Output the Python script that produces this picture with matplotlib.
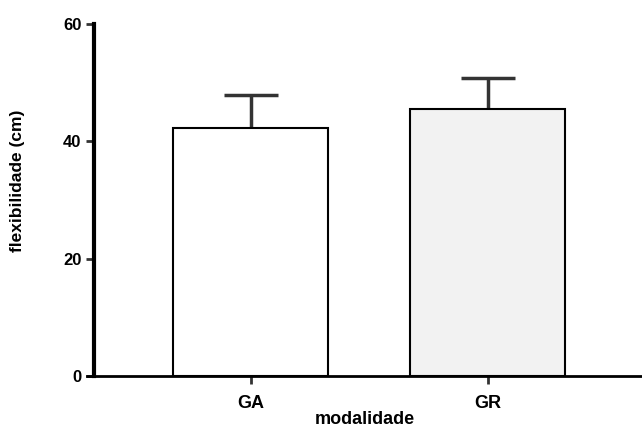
import matplotlib
matplotlib.use('Agg')
import matplotlib.pyplot as plt

plt.rcParams['font.family'] = ['Liberation Sans', 'DejaVu Sans']
plt.rcParams['font.weight'] = 'bold'

groups = ['GA', 'GR']
means = [42.3, 45.5]
errors = [5.6, 5.3]
colors = ['white', '#f2f2f2']

fig = plt.figure(figsize=(6.42, 4.3), dpi=100)
ax = fig.add_axes([0.1355, 0.1256, 0.8645, 0.8186])

x = [1, 2]
ax.bar(x, means, width=0.654, color=colors, edgecolor='black', linewidth=1.5, zorder=2)
eb = ax.errorbar(x, means, yerr=[[0, 0], errors], fmt='none', ecolor='#333333',
                 elinewidth=2.5, capsize=19.5, capthick=2.5, zorder=1)
# hide the lower cap, only the upper half is drawn
eb[1][0].set_visible(False)

ax.set_xlim(0.308, 2.65)
ax.set_ylim(0, 60)
ax.set_yticks([0, 20, 40, 60])
ax.set_xticks(x)
ax.set_xticklabels(groups)

ax.spines['top'].set_visible(False)
ax.spines['right'].set_visible(False)
ax.spines['left'].set_position(('data', 0.3376))
ax.spines['left'].set_linewidth(3)
ax.spines['bottom'].set_linewidth(2)
ax.tick_params(axis='y', length=6, width=2, color='#333333', labelsize=12, pad=3)
ax.tick_params(axis='x', length=6, width=2, color='#333333', labelsize=13, pad=8)
for lab in ax.get_xticklabels() + ax.get_yticklabels():
    lab.set_fontweight('bold')

ax.set_ylabel('flexibilidade (cm)', fontsize=12.5, fontweight='bold')
ax.yaxis.set_label_coords(-0.112, 0.554)
ax.set_xlabel('modalidade', fontsize=13, fontweight='bold', labelpad=-1)

fig.savefig('out.png', dpi=100)
